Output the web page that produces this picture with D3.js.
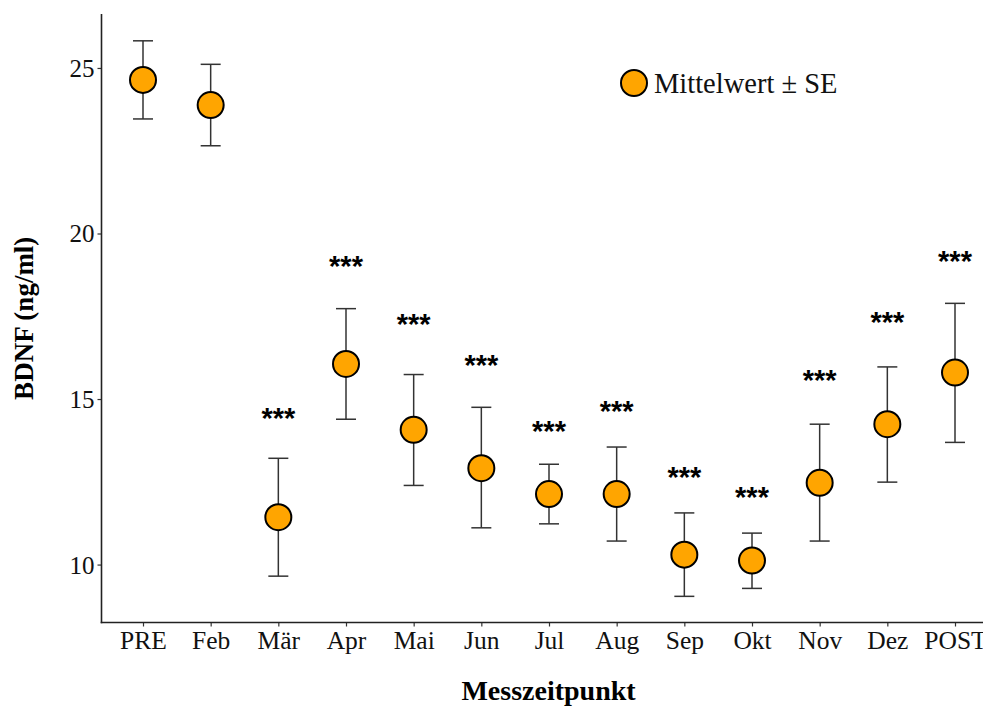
<!DOCTYPE html>
<html>
<head>
<meta charset="utf-8">
<script src="https://cdn.jsdelivr.net/npm/d3@7"></script>
<style>
  body { margin: 0; background: #fff; }
  svg { display: block; }
</style>
</head>
<body>
<div id="chart"></div>
<script>
// data
const months = ["PRE", "Feb", "Mär", "Apr", "Mai", "Jun", "Jul", "Aug", "Sep", "Okt", "Nov", "Dez", "POST"];
const meanValues = [24.64, 23.88, 11.43, 16.06, 14.07, 12.91, 12.13, 12.13, 10.30, 10.12, 12.47, 14.24, 15.80];
const upperValues = [25.82, 25.11, 13.21, 17.73, 15.74, 14.75, 13.03, 13.55, 11.56, 10.95, 14.24, 15.97, 17.89];
const lowerValues = [23.46, 22.65, 9.65, 14.39, 12.39, 11.11, 11.23, 10.71, 9.04, 9.28, 10.71, 12.49, 13.69];
const starLabels = ["", "", "***", "***", "***", "***", "***", "***", "***", "***", "***", "***", "***"];
const starValues = [null, null, 14.56, 19.14, 17.38, 16.15, 14.17, 14.76, 12.77, 12.17, 15.69, 17.45, 19.28];
const yTicks = [10, 15, 20, 25];

const data = months.map((m, i) => ({
    month: m,
    mean: meanValues[i],
    hi: upperValues[i],
    lo: lowerValues[i],
    star: starLabels[i],
    starY: starValues[i]
}));

const width = 983, height = 706;
const plotLeft = 101.5, plotTop = 14, plotBottom = 622.5;

const svg = d3.select("#chart").append("svg")
    .attr("width", width)
    .attr("height", height);

const x = d3.scalePoint()
    .domain(months)
    .range([plotLeft + 0.9, 995.6])
    .padding(0.6);

const y = d3.scaleLinear()
    .domain([8.25, 26.63])
    .range([plotBottom, plotTop]);

const serif = '"Liberation Serif", "Times New Roman", serif';

// axes
const yAxis = svg.append("g")
    .attr("transform", `translate(${plotLeft},0)`)
    .call(d3.axisLeft(y).tickValues(yTicks).tickSize(4).tickPadding(3));
yAxis.select(".domain").remove();
yAxis.selectAll(".tick line").attr("stroke", "#333").attr("stroke-width", 1.2);
yAxis.selectAll(".tick text")
    .style("font-family", serif)
    .style("font-size", "25px")
    .attr("fill", "#111")
    .attr("dy", "0.34em");

const xAxis = svg.append("g")
    .attr("transform", `translate(0,${plotBottom})`)
    .call(d3.axisBottom(x).tickSize(4).tickPadding(4));
xAxis.select(".domain").remove();
xAxis.selectAll(".tick line").attr("stroke", "#333").attr("stroke-width", 1.2);
xAxis.selectAll(".tick text")
    .style("font-family", serif)
    .style("font-size", "25.5px")
    .attr("fill", "#111")
    .attr("dy", "0.74em");

svg.append("line")
    .attr("x1", plotLeft).attr("x2", plotLeft)
    .attr("y1", plotTop).attr("y2", plotBottom + 0.8)
    .attr("stroke", "#222").attr("stroke-width", 1.6);
svg.append("line")
    .attr("x1", plotLeft - 0.8).attr("x2", width)
    .attr("y1", plotBottom).attr("y2", plotBottom)
    .attr("stroke", "#222").attr("stroke-width", 1.6);

// error bars
const capHalf = 10;
const bars = svg.append("g").selectAll("g")
    .data(data)
    .join("g")
    .attr("stroke", "#333")
    .attr("stroke-width", 1.5);

bars.append("line")
    .attr("x1", d => x(d.month)).attr("x2", d => x(d.month))
    .attr("y1", d => y(d.hi)).attr("y2", d => y(d.lo));
bars.append("line")
    .attr("x1", d => x(d.month) - capHalf).attr("x2", d => x(d.month) + capHalf)
    .attr("y1", d => y(d.hi)).attr("y2", d => y(d.hi));
bars.append("line")
    .attr("x1", d => x(d.month) - capHalf).attr("x2", d => x(d.month) + capHalf)
    .attr("y1", d => y(d.lo)).attr("y2", d => y(d.lo));

// points
svg.append("g").selectAll("circle")
    .data(data)
    .join("circle")
    .attr("cx", d => x(d.month))
    .attr("cy", d => y(d.mean))
    .attr("r", 13)
    .attr("fill", "#FFA500")
    .attr("stroke", "#000")
    .attr("stroke-width", 2);

// significance stars
svg.append("g").selectAll("text")
    .data(data.filter(d => d.star))
    .join("text")
    .attr("x", d => x(d.month))
    .attr("y", d => y(d.starY) + 14)
    .attr("text-anchor", "middle")
    .style("font-family", '"Liberation Sans", Arial, sans-serif')
    .style("font-size", "29px")
    .style("font-weight", "bold")
    .text(d => d.star);

// legend
const legend = svg.append("g").attr("transform", "translate(634,83)");
legend.append("circle")
    .attr("r", 13)
    .attr("fill", "#FFA500")
    .attr("stroke", "#000")
    .attr("stroke-width", 2);
legend.append("text")
    .attr("x", 20)
    .attr("y", 9.5)
    .style("font-family", serif)
    .style("font-size", "28.5px")
    .attr("fill", "#111")
    .text("Mittelwert ± SE");

// axis titles
svg.append("text")
    .attr("x", (plotLeft + 995.6) / 2)
    .attr("y", 700)
    .attr("text-anchor", "middle")
    .style("font-family", serif)
    .style("font-size", "28px")
    .style("font-weight", "bold")
    .text("Messzeitpunkt");

svg.append("text")
    .attr("transform", `translate(33,${(plotTop + plotBottom) / 2}) rotate(-90)`)
    .attr("text-anchor", "middle")
    .style("font-family", serif)
    .style("font-size", "27px")
    .style("font-weight", "bold")
    .text("BDNF (ng/ml)");
</script>
</body>
</html>
